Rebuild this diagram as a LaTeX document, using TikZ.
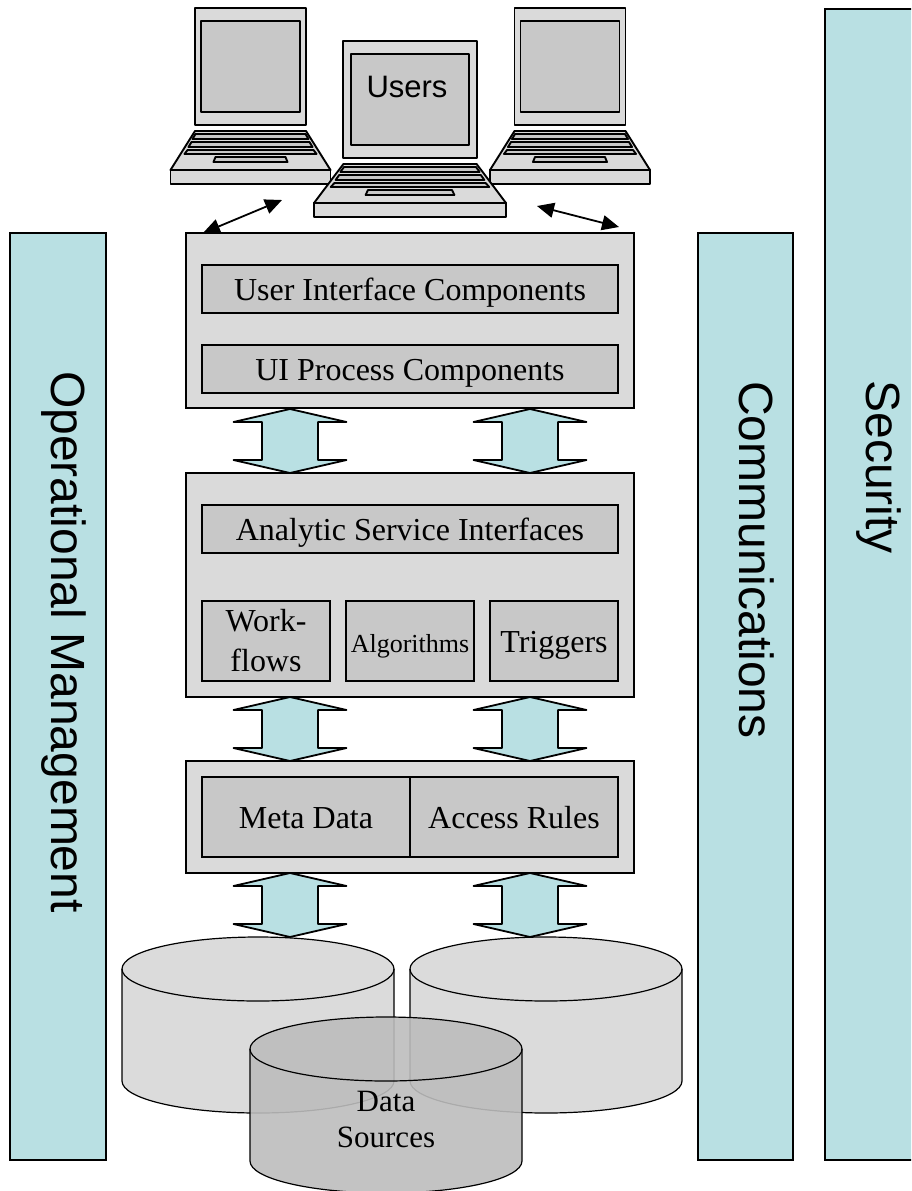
\documentclass[tikz,border=0pt]{standalone}
\usepackage{fontspec}
\setmainfont{Liberation Serif}
\newfontfamily\barfont{Liberation Sans}
\usetikzlibrary{arrows.meta}
\definecolor{panelgray}{HTML}{DADADA}
\definecolor{innergray}{HTML}{C8C8C8}
\definecolor{barteal}{HTML}{B9E0E3}
\definecolor{drumback}{HTML}{D7D7D7}
\definecolor{drumfront}{HTML}{BDBDBD}
\tikzset{
	side_bar/.style={draw,line width=1.2pt,fill=barteal},
	panel_box/.style={draw,line width=1.2pt,fill=panelgray},
	inner_box/.style={draw,line width=1.2pt,fill=innergray,align=center,font=\fontsize{32}{40}\selectfont},
	one_line/.style={text height=22pt,text depth=0pt},
	bar_text/.style={rotate=-90,font=\barfont\fontsize{48}{52}\selectfont},
	block_arrow/.style={draw,line width=1.8pt,fill=barteal,line join=round},
	user_arrow/.style={{Triangle[length=17pt,width=15pt]}-{Triangle[length=17pt,width=15pt]},line width=1.8pt},
	laptop_line/.style={draw,line width=1.9pt,line join=round},
	pics/laptop/.style={code={
		\path[laptop_line,fill=panelgray] (-55.5,0) rectangle (55.5,117);
		\path[laptop_line,fill=innergray] (-49.5,13) rectangle (49.5,104);
		\path[laptop_line,fill=panelgray] (-55.5,123) -- (55.5,123) -- (80,162) -- (-80,162) -- cycle;
		\path[laptop_line,fill=panelgray] (-80,162) rectangle (80,176);
		\path[laptop_line,fill=innergray] (-55,126) -- (55,126) -- (58,131) -- (-58,131) -- cycle;
		\path[laptop_line,fill=innergray] (-59,134) -- (59,134) -- (62,139) -- (-62,139) -- cycle;
		\path[laptop_line,fill=innergray] (-63,142) -- (63,142) -- (66,146) -- (-66,146) -- cycle;
		\path[laptop_line,fill=innergray] (-35,149) -- (35,149) -- (37,154) -- (-37,154) -- cycle;
	}},
}
% block arrow, #1 centre x, #2 top y
\newcommand{\blockarrow}[2]{
	\path[block_arrow,shift={(#1,#2)}] (0,0) -- (56.5,13) -- (28,13) -- (28,51) -- (56.5,51) -- (0,64) -- (-56.5,51) -- (-28,51) -- (-28,13) -- (-56.5,13) -- cycle;
}
% database drum, #1 left x, #2 top y, #3 fill
\newcommand{\drum}[3]{
	\path[draw,line width=1.2pt,fill=#3,fill opacity=0.9,shift={(#1,#2)}] (0,32) -- (0,144) arc[start angle=180,end angle=0,x radius=136,y radius=32] -- (272,32) arc[start angle=0,end angle=-180,x radius=136,y radius=32] -- cycle;
	\path[draw,line width=1.2pt,shift={(#1,#2)}] (0,32) arc[start angle=180,end angle=0,x radius=136,y radius=32];
}
\begin{document}
\begin{tikzpicture}[x=1pt,y=-1pt]
	\useasboundingbox (0,0) rectangle (911,1191);
	\clip (0,0) rectangle (911,1191);

	% bars
	\path[side_bar] (10,233) rectangle (106,1160);
	\path[side_bar] (698,233) rectangle (793,1160);
	\path[side_bar] (825,9) rectangle (920,1160);
	\node[bar_text] (opman) at (64,642) {Operational Management};
	\node[bar_text] (comms) at (757,560) {Communications};
	\node[bar_text] (secur) at (879,467) {Security};

	% laptops
	\pic at (250.5,8) {laptop};
	\pic at (570,8) {laptop};
	\pic[xscale=1.2] at (410,41) {laptop};
	\node[font=\barfont\fontsize{31}{34}\selectfont] (users) at (407,87) {Users};

	% top panel
	\node[panel_box,minimum width=448pt,minimum height=175pt] (ui_panel) at (410,320.5) {};
	\node[inner_box,one_line,minimum width=416pt,minimum height=48pt] (ui_comp) at (410,289) {User Interface Components};
	\node[inner_box,one_line,minimum width=416pt,minimum height=48pt] (ui_proc) at (410,369) {UI Process Components};

	% middle panel
	\node[panel_box,minimum width=448pt,minimum height=224pt] (svc_panel) at (410,585) {};
	\node[inner_box,one_line,minimum width=416pt,minimum height=48pt] (svc_if) at (410,529) {Analytic Service Interfaces};
	\node[inner_box,minimum width=128pt,minimum height=80pt] (flows) at (266,641) {Work-\\flows};
	\node[inner_box,one_line,minimum width=128pt,minimum height=80pt,inner sep=0pt,font=\fontsize{26}{30}\selectfont] (algos) at (410,641) {Algorithms};
	\node[inner_box,one_line,minimum width=128pt,minimum height=80pt] (trigs) at (554,641) {Triggers};

	% meta panel
	\node[panel_box,minimum width=448pt,minimum height=112pt] (meta_panel) at (410,817) {};
	\node[inner_box,one_line,minimum width=208pt,minimum height=80pt] (meta) at (306,817) {Meta Data};
	\node[inner_box,one_line,minimum width=208pt,minimum height=80pt] (rules) at (514,817) {Access Rules};

	% arrows
	\blockarrow{290}{409}
	\blockarrow{530}{409}
	\blockarrow{290}{697}
	\blockarrow{530}{697}
	\blockarrow{290}{873}
	\blockarrow{530}{873}
	\coordinate (left_a) at (203,233);
	\coordinate (left_b) at (282,200);
	\coordinate (right_a) at (537,206);
	\coordinate (right_b) at (619,227);
	\draw[user_arrow] (left_a) -- (left_b);
	\draw[user_arrow] (right_a) -- (right_b);

	% data
	\drum{122}{937}{drumback}
	\drum{410}{937}{drumback}
	\drum{250}{1017}{drumfront}
	\node[align=center,font=\fontsize{31}{36}\selectfont] (data) at (386,1119) {Data\\Sources};
\end{tikzpicture}
\end{document}
